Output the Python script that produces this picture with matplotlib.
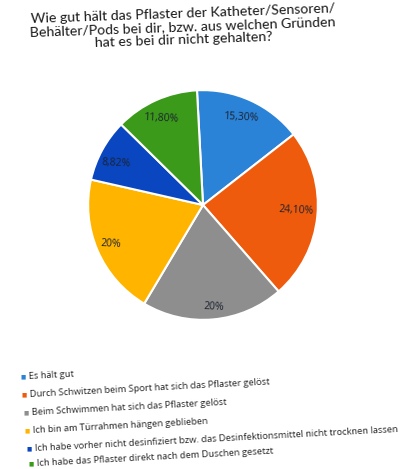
import matplotlib
matplotlib.use("Agg")
import matplotlib.pyplot as plt
import numpy as np

# Data
categories = [
    "Es hält gut",
    "Durch Schwitzen beim Sport hat sich das Pflaster gelöst",
    "Beim Schwimmen hat sich das Pflaster gelöst",
    "Ich bin am Türrahmen hängen geblieben",
    "Ich habe vorher nicht desinfiziert bzw. das Desinfektionsmittel nicht trocknen lassen",
    "Ich habe das Pflaster direkt nach dem Duschen gesetzt",
]
values = [15.30, 24.10, 20.0, 20.0, 8.82, 11.80]
value_labels = ["15,30%", "24,10%", "20%", "20%", "8,82%", "11,80%"]
colors = ["#2B83D8", "#EF5B0C", "#8E8E8E", "#FFB400", "#0A46C0", "#3C9A1A"]
title = ("Wie gut hält das Pflaster der Katheter/Sensoren/\n"
         "Behälter/Pods bei dir, bzw. aus welchen Gründen\n"
         "hat es bei dir nicht gehalten?")

W, H = 411, 469
fig = plt.figure(figsize=(W / 100, H / 100), dpi=100)
fig.patch.set_facecolor("white")

FONT = "Open Sans"

# Pie
cx, cy, r = 203, 205, 116
ax = fig.add_axes([(cx - r) / W, 1 - (cy + r) / H, 2 * r / W, 2 * r / H])
wedges, _ = ax.pie(values, colors=colors, startangle=93, counterclock=False,
                   wedgeprops=dict(edgecolor="white", linewidth=1.5))
ax.set_aspect("equal")
ax.set_xlim(-1.01, 1.01)
ax.set_ylim(-1.01, 1.01)

label_r = [0.83, 0.81, 0.89, 0.87, 0.84, 0.84]
label_shift = [1, 2, 1, 0, 3, 2]
for w, lab, rr, sh in zip(wedges, value_labels, label_r, label_shift):
    mid = np.deg2rad((w.theta1 + w.theta2) / 2 + sh)
    ax.text(rr * np.cos(mid), rr * np.sin(mid), lab, ha="center", va="center",
            fontsize=7.5, color="#1c2230", family=FONT, rotation=-3)

# Title
fig.text(183 / W, 1 - 27 / H, title, ha="center", va="center",
         multialignment="center", fontsize=10.2, family="Lato", color="#1a1a1a",
         linespacing=1.12, rotation=2, rotation_mode="anchor")

# Legend (manual)
marker_pos = [(23, 377), (24, 395), (26, 413), (27, 431), (29, 449), (31, 464)]
for (mx, my), lab, col in zip(marker_pos, categories, colors):
    fig.text(mx / W, 1 - my / H, "■", ha="center", va="center",
             fontsize=4, color=col, family="DejaVu Sans")
    fig.text((mx + 6) / W, 1 - my / H, lab, ha="left", va="center",
             fontsize=6.75, color="#262626", family=FONT,
             rotation=3, rotation_mode="anchor")

fig.savefig("out.png", dpi=100)
